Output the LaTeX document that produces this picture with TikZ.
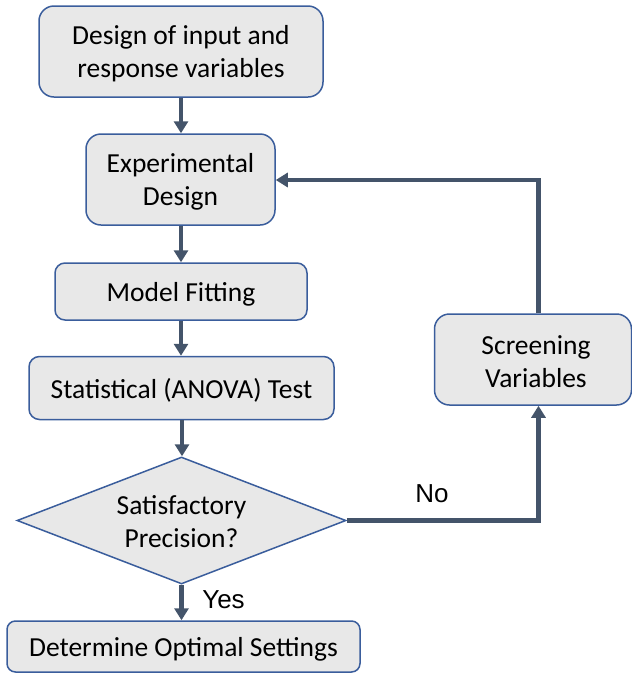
\documentclass[tikz,border=0pt]{standalone}
\usepackage{fontspec}
\setmainfont{Carlito}
\newfontfamily\labelfont{Liberation Sans}
\usetikzlibrary{shapes.geometric,arrows.meta}

\definecolor{boxfill}{HTML}{E8E8E8}
\definecolor{boxline}{HTML}{3A5D9C}
\definecolor{flowline}{HTML}{44546A}

\tikzset{
  boxtext/.style={align=center, inner sep=0pt, yshift=-2.5pt,
    font=\fontsize{27.5}{33}\selectfont},
  stepbox/.style={draw=boxline, fill=boxfill, line width=1.5pt, rectangle,
    inner sep=0pt},
  decision/.style={draw=boxline, fill=boxfill, line width=1.5pt, diamond,
    inner sep=0pt},
  flow/.style={draw=flowline, line width=4.6pt,
    -{Triangle[width=14pt,length=12pt]}},
  answer/.style={font=\labelfont\fontsize{26}{30}\selectfont, inner sep=0pt}
}

\begin{document}
\begin{tikzpicture}[x=1pt, y=-1pt]
  \useasboundingbox (0,0) rectangle (632,673);

  % process steps
  \node[stepbox, rounded corners=15pt, minimum width=284pt, minimum height=91pt,
    label={[boxtext]center:Design of input and\\response variables}]
    (vars) at (181,51.5) {};
  \node[stepbox, rounded corners=15pt, minimum width=189pt, minimum height=91pt,
    label={[boxtext]center:Experimental\\Design}]
    (expd) at (180.5,179.5) {};
  \node[stepbox, rounded corners=10pt, minimum width=252pt, minimum height=57pt,
    label={[boxtext]center:Model Fitting}]
    (fit) at (181,291.5) {};
  \node[stepbox, rounded corners=10.5pt, minimum width=305pt, minimum height=63pt,
    label={[boxtext]center:Statistical (ANOVA) Test}]
    (anova) at (181.5,388) {};
  \node[decision, minimum width=329pt, minimum height=127pt,
    label={[boxtext, yshift=1pt]center:Satisfactory\\Precision?}]
    (prec) at (181.5,520.5) {};
  \node[stepbox, rounded corners=8.5pt, minimum width=353pt, minimum height=51pt,
    label={[boxtext]center:Determine Optimal Settings}]
    (opt) at (183.5,646.5) {};
  \node[stepbox, rounded corners=15pt, minimum width=197pt, minimum height=91pt,
    label={[boxtext, xshift=3pt]center:Screening\\Variables}]
    (screen) at (533,359.5) {};

  % loop-back route coordinates
  \coordinate (noturn) at (538.5,520.5);
  \coordinate (upturn) at (538.5,180);

  % main sequence
  \draw[flow] (vars.south -| 181,0) -- (expd.north -| 181,0);
  \draw[flow] (expd.south -| 181,0) -- (fit.north -| 181,0);
  \draw[flow] (fit.south -| 181,0) -- (anova.north -| 181,0);
  \draw[flow] (anova.south -| 182,0) -- (prec.north -| 182,0);
  \draw[flow] (prec.south) -- (prec.south |- opt.north);

  % "No" branch back to the experimental design
  \draw[flow] (prec.east) -- (noturn) -- (noturn |- screen.south);
  \draw[flow] (noturn |- screen.north) -- (upturn) -- (expd.east |- upturn);

  % branch labels
  \node[answer] (nolab) at (432,494) {No};
  \node[answer] (yeslab) at (223.5,600) {Yes};
\end{tikzpicture}
\end{document}
